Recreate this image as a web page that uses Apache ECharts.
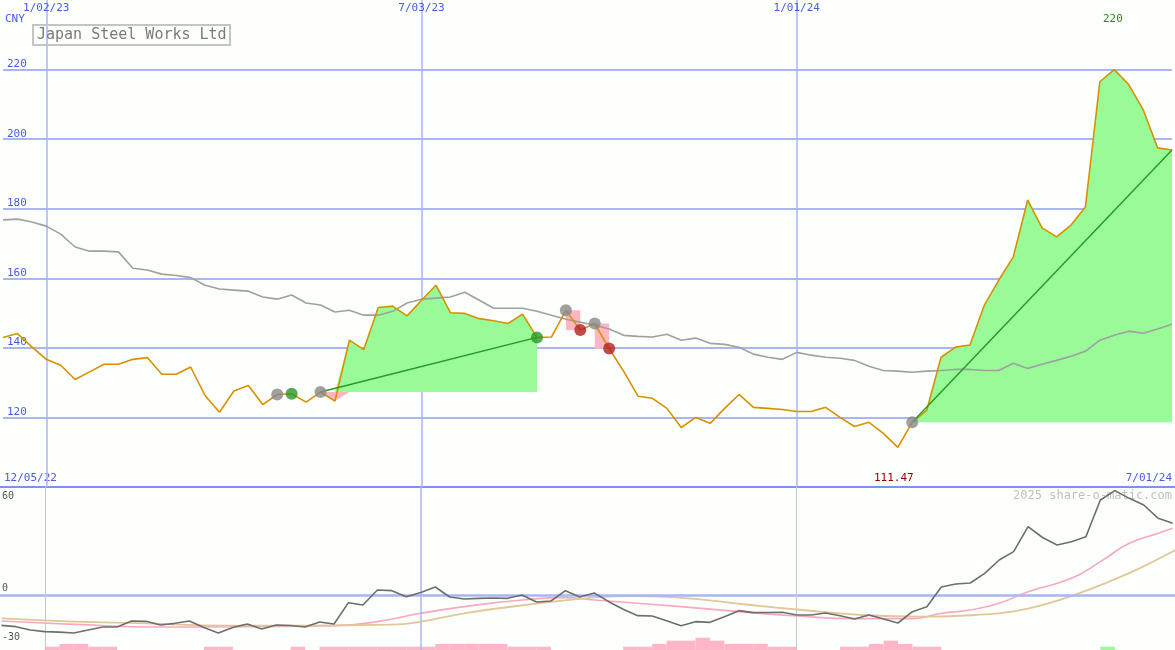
<!DOCTYPE html>
<html>
<head>
<meta charset="utf-8">
<script src="https://cdn.jsdelivr.net/npm/echarts@6/dist/echarts.min.js"></script>
<style>html,body{margin:0;padding:0;background:#fcfffc}#main{width:1175px;height:650px}</style>
</head>
<body>
<div id="main"></div>
<script>
// weekly closes, week 1 = 12/12/22 (week 0 = 12/05/22)
var price = [143.0,144.1,140.3,136.7,135.0,130.9,133.1,135.3,135.3,136.7,137.2,132.4,132.4,134.5,126.3,121.5,127.6,129.2,123.7,126.6,
  126.8,124.4,127.3,124.7,142.2,139.5,151.6,152.0,149.2,153.7,158.0,150.1,149.9,148.4,147.8,147.0,149.7,143.0,143.1,150.8,
  145.1,147.0,139.8,133.3,126.1,125.5,122.6,117.1,120.0,118.3,122.6,126.6,122.9,122.6,122.3,121.7,121.7,122.9,120.0,117.4,
  118.6,115.4,111.4,118.6,122.0,137.3,140.2,140.8,152.3,159.5,166.1,182.5,174.5,171.9,175.3,180.5,216.5,220.0,215.7,208.5,
  197.5,196.9];
var avg = [176.8,177.0,176.2,175.0,172.7,169.0,167.8,167.8,167.6,162.9,162.4,161.2,160.8,160.2,158.0,156.9,156.6,156.3,154.6,154.0,
  155.2,152.9,152.3,150.3,150.8,149.4,149.4,150.5,152.9,154.0,154.3,154.6,156.0,153.7,151.4,151.4,151.4,150.5,149.4,148.2,
  147.4,146.5,145.4,143.6,143.3,143.1,143.9,142.2,142.8,141.3,141.0,140.2,138.2,137.3,136.7,138.7,137.9,137.3,137.0,136.4,
  134.7,133.5,133.3,133.0,133.3,133.5,133.8,133.8,133.5,133.5,135.6,134.1,135.3,136.4,137.6,139.0,142.2,143.6,144.8,144.2,
  145.4,146.8];
var momentum = [-18.2,-19,-21,-22,-22.3,-22.8,-21,-19.2,-19.2,-15.6,-15.8,-18,-17,-15.6,-19.5,-22.8,-19.5,-17.4,-20.4,-18,
  -18.3,-19.2,-16.2,-17.4,-4.6,-6,3,2.6,-1,1.5,4.8,-1.2,-2.4,-2,-1.8,-2,0,-4.2,-3.6,2.6,
  -1.2,1.2,-4,-8.5,-12.4,-12.6,-15.5,-18.4,-16,-16.4,-13,-9.4,-10.6,-10.5,-10.4,-12,-12,-10.8,-12.5,-14.4,
  -12,-14.4,-16.8,-10,-7,4.8,6.6,7.2,13,21,26,41,34.5,30,32,35,57,62.6,58,54,
  46,43];
var pinkWeeks = [1,6,12,17,24,27,30,33,37,40,42,48,52,56,60,64,66,68,70,72,75,77,79,81,82];
var pinkVals = [-15.6,-17.6,-19.2,-19,-18.4,-16,-11,-7,-3,-1.6,-3,-7,-10,-12.6,-14.2,-14.2,-11,-9,-5,2,10,20,31,37,40];
var tanWeeks = [1,6,11,16.5,21.6,27.9,30,33,37.2,41.4,44.5,47.6,52.8,56.4,60.5,64.7,68.3,70.9,73.4,75.5,77.6,79.7,82.2];
var tanVals = [-14,-16,-17,-18.4,-18.4,-17.8,-16,-11,-6,-2,-0.6,-1.4,-6,-9,-12,-13,-12,-10,-5,1,8,16,27];
// histogram: weeks and level (height above floor)
var histWeeks = [4,5,6,7,8,15,16,21,23,24,25,26,27,28,29,30,31,32,33,34,35,36,37,38,
  44,45,46,47,48,49,50,51,52,53,54,55,59,60,61,62,63,64,65];
var histLevels = [2,3.6,3.6,2,2,2,2,2,2,2,2,2,2,2,2,2,3.6,3.6,3.6,3.6,3.6,2,2,2,
  2,2,3.6,5.6,5.6,7.4,5.6,3.6,3.6,3.6,2,2,2,2,3.6,5.6,3.6,2,2];
var gainWeeks = [77], gainLevels = [2];
// trades: entry/exit weeks
var trades = [[23,38],[40,41],[42,43],[64,82]];
var watchWeeks = [20,23,40,42,64], buyWeeks = [21,38], sellWeeks = [41,43];
var dateLines = {4:'1/02/23', 30:'7/03/23', 56:'1/01/24'};

var weeks = [];
for (var i=1; i<=82; i++) weeks.push(String(i));
function p(w){ return price[w-1]; }
function pts(ws){ return ws.map(function(w){ return [String(w), p(w)]; }); }

var mono = 'DejaVu Sans Mono';
var blue = '#4a5ae8', gridBlue = '#a8b6f4';
var series = [];
series.push({type:'line', data: price,
  symbol:'none', lineStyle:{color:'#d89000', width:1.6}, z:5,
  markArea:{silent:true, itemStyle:{color:'#ffb6c1'},
    data:[trades[1],trades[2]].map(function(t){return [{coord:[String(t[0]),p(t[0])]},{coord:[String(t[1]),p(t[1])]}];})}
});
series.push({type:'line', data: avg, symbol:'none', lineStyle:{color:'#a0a0a0', width:1.6}, z:4});
[trades[0],trades[3]].forEach(function(t,k){
  var base = p(t[0]), lo=[], up=[], lo2=[], up2=[];
  for (var w=1; w<=82; w++){
    var inT = w>=t[0] && w<=t[1];
    lo.push(inT ? base : '-');
    up.push(inT ? Math.max(p(w)-base,0) : '-');
    lo2.push(inT ? Math.min(p(w),base) : '-');
    up2.push(inT ? base-Math.min(p(w),base) : '-');
  }
  series.push({type:'line',stack:'g'+k,data:lo,symbol:'none',lineStyle:{opacity:0},z:1});
  series.push({type:'line',stack:'g'+k,data:up,symbol:'none',lineStyle:{opacity:0},areaStyle:{color:'#98fb98',opacity:1},z:1});
  series.push({type:'line',stack:'r'+k,data:lo2,symbol:'none',lineStyle:{opacity:0},z:1});
  series.push({type:'line',stack:'r'+k,data:up2,symbol:'none',lineStyle:{opacity:0},areaStyle:{color:'#ffb6c1',opacity:1},z:1});
  series.push({type:'line',data:pts(t),symbol:'none',lineStyle:{color:'#229922',width:1.4},z:6});
});
series.push({type:'scatter',data:pts(watchWeeks),symbolSize:12,itemStyle:{color:'#888888'},z:7});
series.push({type:'scatter',data:pts(buyWeeks),symbolSize:12,itemStyle:{color:'#2a962a'},z:7});
series.push({type:'scatter',data:pts(sellWeeks),symbolSize:12,itemStyle:{color:'#b02020'},z:7});

// lower panel
var lbl = {color:'#555',fontFamily:mono,fontSize:10};
series.push({type:'line', xAxisIndex:1, yAxisIndex:1, data: momentum.map(function(v,i){return [i+1,v];}),
  symbol:'none', lineStyle:{color:'#6e6e6e', width:1.6}, z:5,
  markLine:{symbol:'none', silent:true, data:[
    {yAxis:0, lineStyle:{color:gridBlue,width:2.5,type:'solid'}, label:Object.assign({formatter:'0',position:'insideStartTop',distance:[2,2]},lbl)},
    {yAxis:60, lineStyle:{color:'rgba(0,0,0,0)',width:1}, label:Object.assign({formatter:'60',position:'insideStartBottom',distance:[2,-4]},lbl)},
    {yAxis:-30, lineStyle:{color:'rgba(0,0,0,0)',width:1}, label:Object.assign({formatter:'-30',position:'insideStartTop',distance:[2,3]},lbl)},
    {xAxis:30, lineStyle:{color:gridBlue,width:1.5,type:'solid'}, label:{show:false}},
    {xAxis:4, lineStyle:{color:'#c8c8c8',width:1,type:'solid'}, label:{show:false}},
    {xAxis:56, lineStyle:{color:'#c8c8c8',width:1,type:'solid'}, label:{show:false}}
  ]}});
series.push({type:'line', xAxisIndex:1, yAxisIndex:1, data: pinkWeeks.map(function(w,i){return [w,pinkVals[i]];}),
  smooth:true, symbol:'none', lineStyle:{color:'#f8a8c0', width:1.6}, z:3});
series.push({type:'line', xAxisIndex:1, yAxisIndex:1, data: tanWeeks.map(function(w,i){return [w,tanVals[i]];}),
  smooth:true, symbol:'none', lineStyle:{color:'#e0c898', width:1.8}, z:3});
series.push({type:'bar', xAxisIndex:1, yAxisIndex:2, barWidth:14.5, barGap:'-100%',
  data: histWeeks.map(function(w,i){return [w+0.5,histLevels[i]];}), itemStyle:{color:'#ffb6c8'}, z:2});
series.push({type:'bar', xAxisIndex:1, yAxisIndex:2, barWidth:14.5, barGap:'-100%',
  data: gainWeeks.map(function(w,i){return [w+0.5,gainLevels[i]];}), itemStyle:{color:'#98fb98'}, z:2});

var chart = echarts.init(document.getElementById('main'));
chart.setOption({
  backgroundColor:'#fcfffc',
  animation:false,
  title:{text:'Japan Steel Works Ltd', left:33, top:25, padding:[3,4,2,4], borderColor:'#c4c4c4', borderWidth:2,
    textStyle:{color:'#7a7a7a', fontFamily:mono, fontSize:15, fontWeight:'normal'}},
  grid:[{left:1.5,right:1,top:0,height:487},{left:0,right:0,top:487,height:163}],
  xAxis:[
    {type:'category',gridIndex:0,data:weeks,boundaryGap:false,position:'top',axisLine:{show:false},axisTick:{show:false},
      axisLabel:{inside:true,margin:3,interval:0,color:blue,fontFamily:mono,fontSize:11,formatter:function(v){return dateLines[v]||'';}},
      splitLine:{show:true,interval:function(i,v){return !!dateLines[v];},lineStyle:{color:gridBlue,width:1.5}}},
    {type:'value',gridIndex:1,min:0.9,max:82.16,axisLine:{show:false},axisTick:{show:false},axisLabel:{show:false},splitLine:{show:false}}
  ],
  yAxis:[
    {type:'value',gridIndex:0,min:100,max:240,interval:20,axisLine:{show:false},axisTick:{show:false},
      splitLine:{showMinLine:false,showMaxLine:false,lineStyle:{color:gridBlue,width:2}},
      axisLabel:{inside:true,verticalAlign:'bottom',margin:4,color:blue,fontFamily:mono,fontSize:11,
        formatter:function(v){return (v>100&&v<240)?v:'';}}},
    {type:'value',gridIndex:1,min:-33,max:64.8,axisLine:{show:false},axisTick:{show:false},axisLabel:{show:false},splitLine:{show:false}},
    {type:'value',gridIndex:1,min:0,max:97.8,show:false}
  ],
  graphic:[
    {type:'text',left:5,top:14,style:{text:'CNY',fill:blue,font:'11px '+mono}},
    {type:'text',left:4,top:473,style:{text:'12/05/22',fill:blue,font:'11px '+mono}},
    {type:'text',right:3,top:473,style:{text:'7/01/24',fill:blue,font:'11px '+mono}},
    {type:'text',left:874,top:473,style:{text:'111.47',fill:'#8b0000',font:'11px '+mono}},
    {type:'text',left:1103,top:14,style:{text:'220',fill:'#228b22',font:'11px '+mono}},
    {type:'text',right:3,top:490,style:{text:'2025 share-o-matic.com',fill:'#c0c0c0',font:'12px '+mono}},
    {type:'rect',left:0,top:486,shape:{width:1175,height:2},style:{fill:'#7f90ee'}}
  ],
  series:series
});
</script>
</body>
</html>
